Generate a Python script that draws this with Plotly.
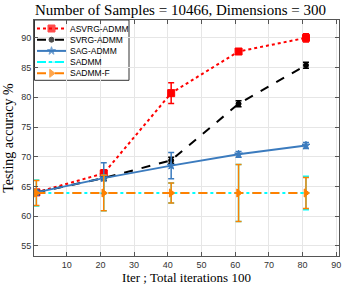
import plotly.graph_objects as go

iters = [1, 21, 41, 61, 81]
asvrg = [64.0, 67.2, 80.7, 87.7, 90.0]
asvrg_err = [0.4, 0.6, 1.75, 0.3, 0.7]
svrg = [64.0, 66.4, 69.4, 78.9, 85.4]
svrg_err = [0.4, 0.4, 0.5, 0.5, 0.5]
sag = [64.0, 66.4, 68.5, 70.4, 71.9]
sag_err = [0.4, 2.6, 2.2, 0.5, 0.5]
sadmm = [63.9, 63.9, 63.9, 63.9, 63.9]
sadmm_err = [2.2, 3.0, 1.7, 4.8, 2.8]
sadmmf = [63.9, 63.9, 63.9, 63.9, 63.9]
sadmmf_err = [2.1, 3.0, 1.7, 4.8, 2.6]

names = ["ASVRG-ADMM", "SVRG-ADMM", "SAG-ADMM", "SADMM", "SADMM-F"]
yticks = [55, 60, 65, 70, 75, 80, 85, 90]
xticks = [10, 20, 30, 40, 50, 60, 70, 80, 90]

series = [
    (asvrg, asvrg_err, "#FF0000", "dot", "square", 7),
    (svrg, svrg_err, "#000000", "dash", "circle", 5),
    (sag, sag_err, "#3B7BBE", "solid", "star", 6),
    (sadmm, sadmm_err, "#00FFFF", "dashdot", "line-ew", 5),
    (sadmmf, sadmmf_err, "#FF8000", "dash", "triangle-right", 7),
]

W, H = 361, 293
ML, MR, MT, MB = 34, 22, 20, 37
PW, PH = W - ML - MR, H - MT - MB

fig = go.Figure()
for name, (vals, err, col, dash, sym, ms) in zip(names, series):
    fig.add_trace(go.Scatter(
        x=iters, y=vals, name=name, mode="lines+markers", showlegend=False,
        line=dict(color=col, width=2, dash=dash),
        marker=dict(color=col, symbol=sym, size=ms, line=dict(color=col, width=1)),
        error_y=dict(type="data", array=err, visible=True, color=col, thickness=1.5, width=3),
    ))

# Manual compact legend (figure-pixel positions)
box_x0, box_x1, box_y0 = ML + 0.5, 129, MT
row_h = 11.2
for i, (name, (vals, err, col, dash, sym, ms)) in enumerate(zip(names, series)):
    yy = box_y0 + 8.5 + i * row_h
    fig.add_trace(go.Scatter(
        x=[37, 51.5, 66], y=[yy, yy, yy], xaxis="x2", yaxis="y2", mode="lines+markers",
        showlegend=False, hoverinfo="skip",
        line=dict(color=col, width=2, dash=dash),
        marker=dict(color=col, symbol=sym, size=[0, ms, 0], line=dict(color=col, width=1)),
    ))
    fig.add_annotation(x=68, y=yy, xref="x2", yref="y2", text=name, showarrow=False,
                       xanchor="left", yanchor="middle",
                       font=dict(family="Liberation Sans, Arial, sans-serif", size=8.5, color="#000"))
box_y1 = box_y0 + 8.5 + 4 * row_h + 7
fig.add_shape(type="rect", xref="paper", yref="paper",
              x0=(box_x0 - ML) / PW, x1=(box_x1 - ML) / PW,
              y0=1 - (box_y1 - MT) / PH, y1=1.0,
              fillcolor="white", line=dict(color="#333333", width=1), layer="below")

axis_common = dict(
    showline=True, linecolor="#555555", linewidth=1, mirror="ticks",
    ticks="inside", ticklen=4, tickcolor="#555555", automargin=False,
    showgrid=True, gridcolor="#E6E6E6", gridwidth=1, zeroline=False,
    tickfont=dict(family="Liberation Sans, Arial, sans-serif", size=9, color="#333333"),
)

fig.update_layout(
    width=W, height=H,
    margin=dict(l=ML, r=MR, t=MT, b=MB, autoexpand=False),
    paper_bgcolor="white", plot_bgcolor="white",
    xaxis=dict(range=[0.3, 90.8], tickvals=xticks,
               title=dict(text="Iter ; Total iterations 100", standoff=4,
                          font=dict(family="Liberation Serif, Times New Roman, serif", size=13, color="#000")),
               **axis_common),
    yaxis=dict(range=[53.3, 93.0], tickvals=yticks,
               title=dict(text="Testing accuracy %", standoff=4,
                          font=dict(family="Liberation Serif, Times New Roman, serif", size=14, color="#000")),
               **axis_common),
    xaxis2=dict(overlaying="x", range=[ML, W - MR], visible=False, fixedrange=True, automargin=False),
    yaxis2=dict(overlaying="y", range=[H - MB, MT], visible=False, fixedrange=True, automargin=False),
    title=dict(text="Number of Samples = 10466, Dimensions = 300", x=0.5, xanchor="center",
               y=1 - 9.5 / H, yanchor="middle",
               font=dict(family="Liberation Serif, Times New Roman, serif", size=15, color="#000")),
    showlegend=False,
)

fig.write_html("out.html", config={"displayModeBar": False},
               post_script="document.body.style.margin='0';")
